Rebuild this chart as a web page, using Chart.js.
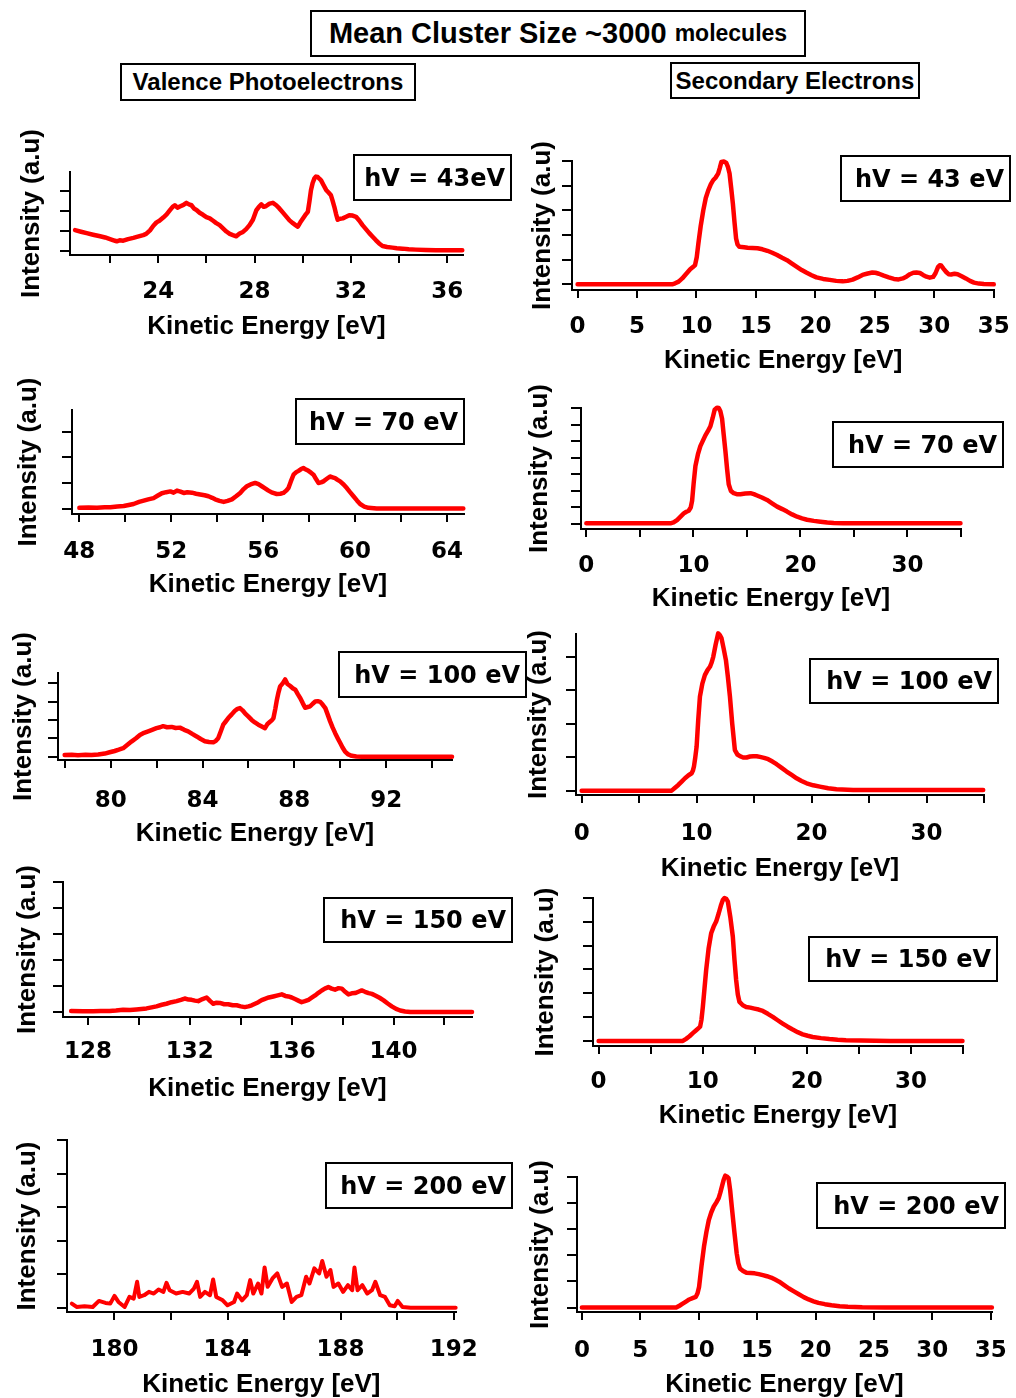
<!DOCTYPE html>
<html>
<head>
<meta charset="utf-8">
<title>Mean Cluster Size ~3000 molecules</title>
<script src="https://cdn.jsdelivr.net/npm/chart.js@4"></script>
<style>
  body { margin: 0; background: #fff; width: 1016px; height: 1398px; position: relative; overflow: hidden;
         font-family: "Liberation Sans", Arial, sans-serif; }
  canvas { position: absolute; }
  .box { position: absolute; border: 2px solid #000; box-sizing: border-box; font-weight: bold; color: #000;
         display: flex; align-items: center; white-space: nowrap; }
  .head { justify-content: center; }
  .hv { justify-content: flex-end; padding-right: 5px; font-family: "DejaVu Sans", sans-serif; font-size: 24px; }
</style>
</head>
<body>

<div class="box head" style="left:310px;top:10px;width:496px;height:47px;font-size:29px;">Mean Cluster Size ~3000&nbsp;<span style="font-size:23px;">molecules</span></div>
<div class="box head" style="left:120px;top:63px;width:296px;height:38px;font-size:24px;">Valence Photoelectrons</div>
<div class="box head" style="left:670px;top:62px;width:250px;height:37px;font-size:24px;">Secondary Electrons</div>

<script>
// ---- valence photoelectron spectra (kinetic energy in eV, intensity in a.u.) ----
const valenceKE43 = [20.55,20.8,21.03,21.3,21.59,21.8,22.0,22.15,22.28,22.4,22.55,22.75,22.97,23.15,23.38,23.5,23.66,23.8,23.93,24.05,24.21,24.35,24.48,24.6,24.69,24.8,24.9,25.05,25.17,25.28,25.38,25.5,25.59,25.72,25.86,26.0,26.14,26.28,26.41,26.55,26.69,26.83,26.97,27.1,27.24,27.38,27.52,27.65,27.79,27.93,28.07,28.18,28.28,28.38,28.48,28.62,28.76,28.9,29.03,29.17,29.31,29.45,29.59,29.7,29.79,29.9,30.0,30.1,30.21,30.28,30.34,30.41,30.48,30.55,30.62,30.7,30.76,30.86,30.97,31.07,31.17,31.24,31.31,31.38,31.45,31.55,31.66,31.8,31.93,32.07,32.21,32.35,32.48,32.62,32.76,32.9,33.03,33.17,33.31,33.5,33.72,33.9,34.14,34.4,34.69,35.1,35.52,36.0,36.62];
const valenceI43  = [1.03,0.95,0.88,0.8,0.72,0.66,0.58,0.52,0.47,0.52,0.5,0.58,0.64,0.7,0.78,0.84,1.02,1.25,1.42,1.5,1.66,1.82,2.02,2.2,2.28,2.16,2.22,2.3,2.4,2.32,2.28,2.1,2.04,1.9,1.8,1.68,1.62,1.5,1.38,1.28,1.12,0.96,0.84,0.78,0.72,0.86,0.94,1.08,1.28,1.55,2.02,2.2,2.32,2.2,2.24,2.36,2.4,2.28,2.12,1.92,1.72,1.52,1.38,1.28,1.2,1.42,1.6,1.78,1.95,2.5,3.03,3.4,3.62,3.72,3.7,3.6,3.53,3.3,3.05,2.92,2.78,2.5,2.2,1.85,1.55,1.6,1.62,1.7,1.78,1.76,1.7,1.5,1.28,1.08,0.88,0.7,0.53,0.36,0.23,0.18,0.15,0.12,0.1,0.07,0.05,0.03,0.02,0.02,0.02];

const valenceKE70 = [48.0,48.4,48.77,49.1,49.35,49.65,49.93,50.15,50.36,50.6,50.8,51.0,51.23,51.4,51.59,51.78,51.96,52.1,52.25,52.4,52.54,52.7,52.9,53.08,53.26,53.45,53.62,53.78,53.91,54.1,54.28,54.45,54.64,54.82,55.0,55.15,55.29,55.45,55.65,55.8,55.94,56.1,56.23,56.4,56.59,56.75,56.88,57.0,57.1,57.2,57.32,57.44,57.54,57.65,57.75,57.86,57.97,58.08,58.19,58.3,58.41,58.52,58.62,58.77,58.91,59.02,59.13,59.24,59.35,59.5,59.64,59.78,59.93,60.08,60.22,60.4,60.58,60.94,61.5,62.39,63.5,64.71];
const valenceI70  = [0.03,0.04,0.03,0.05,0.05,0.08,0.1,0.14,0.18,0.26,0.31,0.36,0.41,0.5,0.6,0.64,0.67,0.62,0.7,0.66,0.61,0.64,0.62,0.58,0.55,0.52,0.48,0.42,0.36,0.3,0.26,0.3,0.36,0.48,0.61,0.76,0.87,0.94,1.0,0.95,0.87,0.78,0.7,0.62,0.57,0.58,0.61,0.7,0.8,1.05,1.32,1.42,1.47,1.54,1.58,1.52,1.47,1.4,1.32,1.15,1.0,1.02,1.06,1.16,1.25,1.22,1.19,1.12,1.06,0.94,0.8,0.64,0.48,0.32,0.18,0.08,0.03,0.0,0.0,0.0,0.0,0.0];

const valenceKE100 = [77.99,78.3,78.57,78.9,79.16,79.45,79.74,79.95,80.17,80.35,80.54,80.7,80.9,81.1,81.27,81.45,81.63,81.8,81.99,82.15,82.28,82.45,82.65,82.83,83.01,83.2,83.37,83.55,83.74,83.92,84.1,84.28,84.47,84.58,84.68,84.8,84.9,85.0,85.12,85.27,85.41,85.52,85.63,85.74,85.85,86.0,86.14,86.28,86.43,86.58,86.72,86.83,86.94,87.02,87.09,87.17,87.24,87.31,87.38,87.5,87.6,87.7,87.82,87.93,88.04,88.15,88.26,88.37,88.47,88.58,88.69,88.8,88.91,89.02,89.13,89.24,89.35,89.45,89.56,89.67,89.78,89.9,90.0,90.1,90.21,90.35,90.5,90.7,90.94,92.0,93.5,94.87];
const valenceI100  = [0.09,0.1,0.08,0.1,0.09,0.12,0.17,0.24,0.31,0.38,0.46,0.62,0.82,1.0,1.18,1.3,1.38,1.46,1.55,1.6,1.66,1.6,1.62,1.56,1.58,1.46,1.38,1.24,1.1,0.96,0.84,0.8,0.78,0.86,1.0,1.4,1.74,1.9,2.1,2.3,2.5,2.6,2.64,2.52,2.36,2.18,2.0,1.86,1.74,1.64,1.55,1.78,1.9,1.98,2.1,2.6,3.1,3.5,3.82,4.0,4.2,3.95,3.84,3.72,3.64,3.4,3.18,2.9,2.66,2.7,2.74,2.88,3.0,3.02,2.98,2.82,2.64,2.3,1.92,1.58,1.28,0.98,0.74,0.5,0.28,0.12,0.05,0.01,0.0,0.0,0.0,0.0];

const valenceKE150 = [127.34,127.8,128.2,128.5,128.85,129.1,129.38,129.65,129.9,130.1,130.3,130.5,130.69,130.9,131.08,131.28,131.48,131.65,131.8,131.95,132.07,132.2,132.33,132.5,132.66,132.8,132.92,133.05,133.18,133.35,133.51,133.68,133.84,134.0,134.16,134.3,134.43,134.56,134.69,134.82,134.95,135.1,135.28,135.45,135.61,135.75,135.87,136.0,136.13,136.26,136.39,136.52,136.66,136.8,136.92,137.05,137.18,137.3,137.44,137.57,137.7,137.84,137.97,138.1,138.23,138.36,138.49,138.62,138.75,138.88,139.02,139.15,139.28,139.45,139.61,139.77,139.93,140.1,140.26,140.45,140.66,141.5,142.3,143.08];
const valenceI150  = [0.04,0.03,0.03,0.04,0.04,0.06,0.09,0.08,0.1,0.12,0.14,0.18,0.22,0.28,0.32,0.38,0.42,0.47,0.52,0.48,0.47,0.44,0.42,0.5,0.56,0.42,0.32,0.36,0.35,0.3,0.3,0.26,0.26,0.22,0.19,0.22,0.26,0.32,0.38,0.46,0.51,0.56,0.6,0.64,0.68,0.62,0.6,0.56,0.5,0.44,0.38,0.42,0.47,0.56,0.64,0.74,0.83,0.9,0.96,0.9,0.86,0.92,0.9,0.78,0.68,0.72,0.73,0.78,0.83,0.78,0.73,0.7,0.64,0.55,0.45,0.33,0.22,0.12,0.06,0.02,0.0,0.0,0.0,0.0];

const valenceKE200 = [178.49,178.66,178.94,179.23,179.45,179.68,179.85,180.0,180.14,180.36,180.53,180.68,180.8,180.88,181.05,181.22,181.39,181.56,181.73,181.84,181.95,182.18,182.41,182.64,182.81,182.92,183.03,183.2,183.38,183.49,183.6,183.83,184.0,184.23,184.34,184.51,184.68,184.8,184.91,185.08,185.2,185.31,185.42,185.59,185.76,185.93,186.1,186.27,186.44,186.61,186.78,186.9,187.07,187.24,187.35,187.5,187.64,187.75,187.92,188.09,188.26,188.41,188.49,188.6,188.77,188.94,189.11,189.23,189.4,189.57,189.74,189.91,190.02,190.19,190.48,191.2,192.07];
const valenceI200  = [0.12,0.02,0.04,0.02,0.2,0.14,0.12,0.35,0.17,0.02,0.32,0.27,0.77,0.32,0.37,0.47,0.42,0.54,0.47,0.74,0.52,0.42,0.47,0.42,0.57,0.77,0.32,0.47,0.37,0.84,0.32,0.22,0.07,0.17,0.42,0.22,0.37,0.82,0.42,0.72,0.42,1.2,0.62,0.87,1.02,0.62,0.72,0.17,0.32,0.37,0.92,0.72,1.17,1.02,1.39,0.92,1.12,0.62,0.72,0.47,0.67,0.52,1.2,0.52,0.67,0.42,0.52,0.77,0.37,0.32,0.07,0.04,0.2,0.02,0.0,0.0,0.0];

// ---- secondary electron spectra ----
const secondaryKE43 = [0,4,7.95,8.2,8.5,8.8,9.05,9.27,9.47,9.7,9.88,10.02,10.16,10.35,10.57,10.78,10.99,11.2,11.4,11.6,11.82,11.95,12.09,12.3,12.51,12.65,12.78,12.92,13.06,13.2,13.33,13.45,13.61,14.0,14.3,14.7,15.13,15.55,15.96,16.37,16.78,17.2,17.61,18.0,18.44,18.85,19.27,19.68,20.09,20.65,21.2,21.75,22.3,22.7,23.13,23.55,23.96,24.4,24.79,25.05,25.34,25.75,26.17,26.6,27.0,27.35,27.68,27.95,28.24,28.5,28.79,29.05,29.34,29.62,29.9,30.1,30.31,30.45,30.58,30.8,31.0,31.2,31.41,31.7,31.96,32.3,32.65,33.0,33.34,33.75,34.17,35.0];
const secondaryI43  = [0,0,0,0.04,0.11,0.24,0.38,0.5,0.61,0.7,0.78,1.1,1.66,2.35,3.0,3.5,3.81,4.05,4.22,4.32,4.49,4.7,4.96,4.98,4.92,4.75,4.49,3.9,3.27,2.5,1.86,1.62,1.52,1.5,1.48,1.47,1.46,1.42,1.36,1.28,1.19,1.08,0.98,0.85,0.71,0.58,0.47,0.37,0.28,0.22,0.18,0.14,0.12,0.14,0.19,0.28,0.38,0.44,0.48,0.47,0.43,0.35,0.28,0.22,0.2,0.24,0.32,0.41,0.47,0.48,0.46,0.38,0.31,0.27,0.3,0.45,0.7,0.77,0.76,0.62,0.5,0.41,0.4,0.43,0.41,0.33,0.24,0.14,0.07,0.03,0.01,0];

const secondaryKE70 = [0,4,7.85,8.15,8.47,8.8,9.1,9.35,9.56,9.75,9.88,10.03,10.19,10.42,10.65,10.9,11.12,11.35,11.59,11.8,11.99,12.2,12.37,12.52,12.68,12.83,12.99,13.15,13.3,13.5,13.77,14.05,14.39,14.85,15.33,15.65,15.95,16.4,16.88,17.35,17.82,18.3,18.75,19.22,19.69,20.15,20.62,21.25,21.87,22.5,23.11,24.0,24.98,30.0,34.95];
const secondaryI70  = [0.04,0.04,0.04,0.1,0.24,0.45,0.64,0.74,0.8,1.0,1.4,2.5,3.5,4.2,4.7,5.05,5.35,5.6,5.9,6.4,6.9,7.02,7.0,6.8,6.35,5.4,4.4,3.3,2.4,2.0,1.86,1.8,1.8,1.84,1.86,1.8,1.72,1.6,1.45,1.25,1.05,0.9,0.75,0.58,0.44,0.34,0.26,0.19,0.14,0.09,0.06,0.05,0.04,0.04,0.04];

const secondaryKE100 = [0,4,7.83,8.1,8.41,8.7,8.99,9.3,9.57,9.68,9.77,9.88,10.0,10.14,10.29,10.5,10.72,10.95,11.16,11.3,11.45,11.65,11.88,12.02,12.17,12.35,12.55,12.72,12.9,13.1,13.33,13.55,13.77,14.05,14.35,14.65,14.93,15.22,15.51,15.87,16.23,16.6,16.96,17.4,17.83,18.27,18.7,19.13,19.57,20.15,20.72,21.45,22.17,23.62,28,34.93];
const secondaryI100  = [0,0,0,0.08,0.17,0.27,0.37,0.46,0.52,0.6,0.72,0.98,1.31,2.1,2.81,3.2,3.45,3.6,3.7,3.82,4.0,4.35,4.7,4.65,4.55,4.25,3.9,3.4,2.81,2.0,1.21,1.08,1.03,0.99,0.99,1.02,1.03,1.03,1.01,0.98,0.94,0.87,0.79,0.68,0.57,0.47,0.37,0.29,0.22,0.16,0.12,0.07,0.04,0.02,0.02,0.02];

const secondaryKE150 = [0,4,8.09,8.4,8.73,9.05,9.37,9.6,9.75,9.88,10.01,10.17,10.33,10.57,10.81,11.05,11.29,11.53,11.77,11.93,12.09,12.25,12.41,12.65,12.89,13.05,13.21,13.37,13.53,13.85,14.17,14.57,14.97,15.37,15.77,16.25,16.73,17.2,17.68,18.16,18.64,19.12,19.6,20.08,20.56,21.36,22.16,22.96,23.76,28,34.95];
const secondaryI150  = [0,0,0,0.09,0.2,0.33,0.45,0.54,0.6,0.9,1.43,2.2,2.98,3.9,4.52,4.8,5.01,5.35,5.72,5.92,6.0,5.97,5.86,5.2,4.38,3.4,2.56,1.95,1.64,1.5,1.43,1.4,1.36,1.32,1.26,1.14,1.01,0.87,0.73,0.6,0.48,0.37,0.28,0.22,0.17,0.12,0.08,0.05,0.03,0,0];

const secondaryKE200 = [0,4,8.07,8.35,8.63,8.91,9.19,9.47,9.75,9.9,10.03,10.24,10.45,10.66,10.87,11.08,11.29,11.5,11.71,11.85,11.99,12.13,12.27,12.41,12.55,12.69,12.83,13.04,13.25,13.39,13.53,13.8,14.09,14.44,14.79,15.14,15.49,15.84,16.19,16.54,16.89,17.31,17.73,18.15,18.57,18.99,19.41,19.83,20.25,20.8,21.37,22.07,22.77,24,26,35.1];
const secondaryI200  = [0,0,0,0.07,0.15,0.23,0.31,0.36,0.41,0.55,0.79,1.6,2.33,2.9,3.36,3.65,3.87,4.02,4.19,4.4,4.64,4.88,5.05,5.02,4.96,4.5,3.87,2.95,2.08,1.7,1.5,1.4,1.33,1.32,1.31,1.28,1.24,1.2,1.15,1.07,0.99,0.86,0.73,0.62,0.51,0.4,0.31,0.24,0.18,0.13,0.09,0.05,0.03,0.01,0,0];

// labelled tick values on each energy axis
const valenceLabels43 = [24, 28, 32, 36];
const valenceLabels70 = [48, 52, 56, 60, 64];
const valenceLabels100 = [80, 84, 88, 92];
const valenceLabels150 = [128, 132, 136, 140];
const valenceLabels200 = [180, 184, 188, 192];
const secondaryLabelsFine = [0, 5, 10, 15, 20, 25, 30, 35];
const secondaryLabelsCoarse = [0, 10, 20, 30];

const photonLabels = ['hV = 43eV', 'hV = 70 eV', 'hV = 100 eV', 'hV = 150 eV', 'hV = 200 eV',
                      'hV = 43 eV', 'hV = 70 eV', 'hV = 100 eV', 'hV = 150 eV', 'hV = 200 eV'];

// panel layout: plot area on the page, axis ranges, title / tick label positions, label box
const panels = [
  { ke: valenceKE43,  i: valenceI43,  labels: valenceLabels43,  area: [70, 172, 463, 255],  x: [20.34, 36.65], step: 2, y: [-0.22, 3.95], yTitle: 32,  xTitle: 326,  tickY: 292,  lw: 4.5, box: [353, 154, 159, 47] },
  { ke: valenceKE70,  i: valenceI70,  labels: valenceLabels70,  area: [72, 410, 464, 514],  x: [47.68, 64.74], step: 2, y: [-0.21, 3.84], yTitle: 29,  xTitle: 584,  tickY: 552,  lw: 4.5, box: [295, 398, 170, 47] },
  { ke: valenceKE100, i: valenceI100, labels: valenceLabels100, area: [58, 673, 452, 760],  x: [77.7, 94.87],  step: 2, y: [-0.18, 4.55], yTitle: 24,  xTitle: 833,  tickY: 801,  lw: 4.5, box: [338, 651, 189, 47] },
  { ke: valenceKE150, i: valenceI150, labels: valenceLabels150, area: [63, 882, 472, 1017], x: [127.02, 143.08], step: 2, y: [-0.19, 5], yTitle: 28, xTitle: 1088, tickY: 1052, lw: 4.5, box: [323, 897, 190, 46] },
  { ke: valenceKE200, i: valenceI200, labels: valenceLabels200, area: [67, 1140, 470, 1312], x: [178.32, 192.07], step: 2, y: [-0.13, 5], yTitle: 28, xTitle: 1384, tickY: 1350, lw: 4, box: [325, 1162, 188, 47] },
  { ke: secondaryKE43,  i: secondaryI43,  labels: secondaryLabelsFine,   area: [572, 161, 1001, 290],  x: [-0.47, 35.05], step: 5, y: [-0.23, 5],    yTitle: 543, xTitle: 360,  tickY: 327,  lw: 4.5, box: [840, 155, 171, 47] },
  { ke: secondaryKE70,  i: secondaryI70,  labels: secondaryLabelsCoarse, area: [581, 408, 961, 529],   x: [-0.5, 35],    step: 5, y: [-0.3, 7],     yTitle: 540, xTitle: 598,  tickY: 566,  lw: 4.5, box: [832, 421, 172, 47] },
  { ke: secondaryKE100, i: secondaryI100, labels: secondaryLabelsCoarse, area: [576, 634, 984, 795],   x: [-0.49, 35],   step: 5, y: [-0.13, 4.68], yTitle: 539, xTitle: 868,  tickY: 834,  lw: 4.5, box: [809, 658, 190, 46] },
  { ke: secondaryKE150, i: secondaryI150, labels: secondaryLabelsCoarse, area: [593, 898, 963, 1046],  x: [-0.54, 35],   step: 5, y: [-0.21, 6],    yTitle: 546, xTitle: 1115, tickY: 1082, lw: 4.5, box: [808, 936, 190, 46] },
  { ke: secondaryKE200, i: secondaryI200, labels: secondaryLabelsFine,   area: [577, 1177, 1000, 1312], x: [-0.42, 35.1], step: 5, y: [-0.17, 5],    yTitle: 541, xTitle: 1384, tickY: 1351, lw: 4.5, box: [816, 1182, 190, 47] }
];

const titleFont = { family: '"Liberation Sans", Arial, sans-serif', size: 26, weight: 'bold' };
const tickFont = { family: '"DejaVu Sans", sans-serif', size: 23, weight: 'bold' };

function makePanel(p, idx) {
  // generous top margin so the rotated y title is never cut off by the canvas edge
  const padTop = 60, padRight = 24;
  const [l, t, r, b] = p.area;
  const titleLine = titleFont.size * 1.2;
  const canvasLeft = Math.round(p.yTitle - titleLine / 2);
  const yWidth = l - canvasLeft;
  const xHeight = Math.round(p.xTitle + titleLine / 2 - b);
  const tickPad = p.tickY - b - 8 - tickFont.size * 1.2 / 2;

  const canvas = document.createElement('canvas');
  canvas.width = yWidth + (r - l) + padRight;
  canvas.height = padTop + (b - t) + xHeight;
  canvas.style.left = canvasLeft + 'px';
  canvas.style.top = (t - padTop) + 'px';
  document.body.appendChild(canvas);

  const points = p.ke.map((e, k) => ({ x: e, y: p.i[k] }));

  new Chart(canvas, {
    type: 'line',
    data: {
      datasets: [{
        data: points,
        borderColor: '#ff0000',
        borderWidth: p.lw,
        borderJoinStyle: 'round',
        borderCapStyle: 'round',
        pointRadius: 0,
        tension: 0,
        fill: false,
        clip: false
      }]
    },
    options: {
      responsive: false,
      animation: false,
      layout: { padding: { top: padTop, right: padRight, left: 0, bottom: 0 } },
      plugins: { legend: { display: false }, tooltip: { enabled: false } },
      scales: {
        x: {
          type: 'linear',
          min: p.x[0],
          max: p.x[1],
          ticks: {
            stepSize: p.step,
            autoSkip: false,
            maxRotation: 0,
            includeBounds: false,
            padding: tickPad,
            color: '#000',
            font: tickFont,
            callback: v => {
              const n = Math.round(v);
              return Math.abs(v - n) < 1e-6 && p.labels.includes(n) ? String(n) : '';
            }
          },
          grid: { drawOnChartArea: false, tickLength: 8, lineWidth: 2, color: '#000' },
          border: { display: true, color: '#000', width: 2 },
          title: { display: true, text: 'Kinetic Energy [eV]', color: '#000', font: titleFont, padding: 0 },
          afterFit: s => { s.height = xHeight; }
        },
        y: {
          type: 'linear',
          min: p.y[0],
          max: p.y[1],
          ticks: { stepSize: 1, includeBounds: false, display: false },
          grid: { drawOnChartArea: false, tickLength: 10, lineWidth: 2, color: '#000' },
          border: { display: true, color: '#000', width: 2 },
          title: { display: true, text: 'Intensity (a.u)', color: '#000', font: titleFont, padding: 0 },
          afterFit: s => { s.width = yWidth; }
        }
      }
    }
  });

  const box = document.createElement('div');
  box.className = 'box hv';
  box.style.left = p.box[0] + 'px';
  box.style.top = p.box[1] + 'px';
  box.style.width = p.box[2] + 'px';
  box.style.height = p.box[3] + 'px';
  box.textContent = photonLabels[idx];
  document.body.appendChild(box);
}

panels.forEach(makePanel);
</script>
</body>
</html>
